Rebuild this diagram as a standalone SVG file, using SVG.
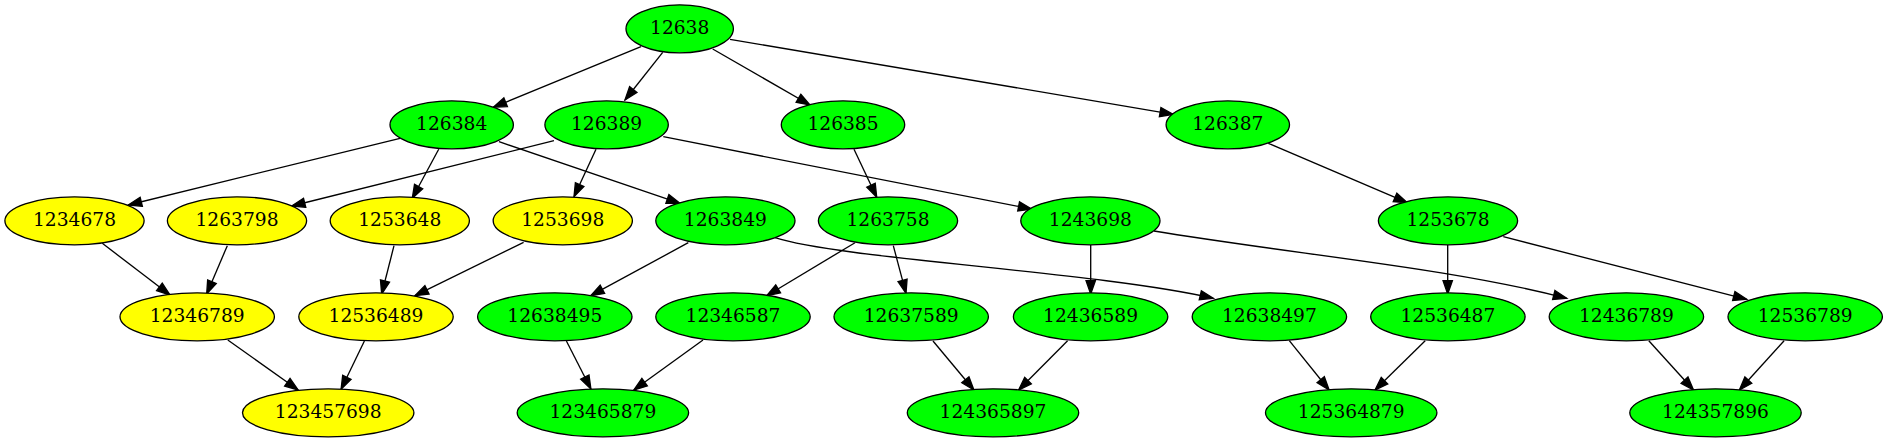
<svg xmlns="http://www.w3.org/2000/svg" width="1888" height="443" viewBox="0 0 1888 443">
<style>
.n ellipse{stroke:#000;stroke-width:1.33}
.g ellipse{fill:#00ff00}
.y ellipse{fill:#ffff00}
.n text{font-family:"DejaVu Serif","Liberation Serif",serif;font-size:18.67px;text-anchor:middle;fill:#000}
.e path{fill:none;stroke:#000;stroke-width:1.33;marker-end:url(#ah)}
</style>
<defs>
<marker id="ah" markerUnits="userSpaceOnUse" markerWidth="16" markerHeight="12" refX="13.33" refY="4.67" orient="auto" overflow="visible">
<path d="M0,0 L13.33,4.67 L0,9.33 Z" fill="#000" stroke="#000" stroke-width="1.33"/>
</marker>
</defs>
<rect width="1888" height="443" fill="#fff"/>
<g id="edges" class="e">
<path d="M641,46.7 L493.3,107.3"/>
<path d="M662.7,52.3 L625,100"/>
<path d="M712.7,49 L810,105"/>
<path d="M730,39.3 L1173.3,114.3"/>
<path d="M400,138.3 L128.3,205"/>
<path d="M438.7,149.3 L412.3,198.3"/>
<path d="M499,141.7 L680,203.3"/>
<path d="M554,140.7 L291.7,206"/>
<path d="M596,149.3 L574,196.7"/>
<path d="M663.3,136.7 L1031.7,209"/>
<path d="M854,149.3 L876.7,197.3"/>
<path d="M1268.3,143.3 L1407.3,202.7"/>
<path d="M102.3,243.3 L170,295"/>
<path d="M227.3,245.7 L206.7,294"/>
<path d="M394,245.7 L381.7,294"/>
<path d="M523.6,242.3 L415,295.7"/>
<path d="M688.3,242.7 L590.7,295.7"/>
<path d="M775,237.7 C840,259 1100,272 1213.3,298.3"/>
<path d="M855,242.7 L766.7,295.7"/>
<path d="M893.3,245.7 L906,293.3"/>
<path d="M1090.7,245 L1090.7,294"/>
<path d="M1154,231 C1300,255 1450,268 1566.7,298.3"/>
<path d="M1447.7,245 L1447.7,294"/>
<path d="M1503.3,236.7 L1746.7,299.3"/>
<path d="M227.8,340 L298.2,390"/>
<path d="M364.4,341 L341.1,389.3"/>
<path d="M566.4,341 L590.9,389"/>
<path d="M703,340 L633.8,390"/>
<path d="M933,341 L973.9,390"/>
<path d="M1067.6,340.7 L1018.6,390"/>
<path d="M1289.3,340.7 L1329.1,390"/>
<path d="M1425.2,340.7 L1375,390"/>
<path d="M1648.8,340.7 L1693.5,390"/>
<path d="M1784.1,340.7 L1739.4,390"/>
</g>
<g id="n12638" class="n g"><ellipse cx="679.7" cy="28.8" rx="53.7" ry="24"/><text x="679.7" y="34">12638</text></g>
<g id="n126384" class="n g"><ellipse cx="451.7" cy="124.8" rx="61.7" ry="24"/><text x="451.7" y="130">126384</text></g>
<g id="n126389" class="n g"><ellipse cx="606.6" cy="124.8" rx="61.7" ry="24"/><text x="606.6" y="130">126389</text></g>
<g id="n126385" class="n g"><ellipse cx="843" cy="124.8" rx="61.7" ry="24"/><text x="843" y="130">126385</text></g>
<g id="n126387" class="n g"><ellipse cx="1227.8" cy="124.8" rx="61.7" ry="24"/><text x="1227.8" y="130">126387</text></g>
<g id="n1234678" class="n y"><ellipse cx="74.5" cy="220.8" rx="69.6" ry="24"/><text x="74.5" y="226">1234678</text></g>
<g id="n1263798" class="n y"><ellipse cx="237" cy="220.8" rx="69.6" ry="24"/><text x="237" y="226">1263798</text></g>
<g id="n1253648" class="n y"><ellipse cx="399.8" cy="220.8" rx="69.6" ry="24"/><text x="399.8" y="226">1253648</text></g>
<g id="n1253698" class="n y"><ellipse cx="562.8" cy="220.8" rx="69.6" ry="24"/><text x="562.8" y="226">1253698</text></g>
<g id="n1263849" class="n g"><ellipse cx="725.4" cy="220.8" rx="69.6" ry="24"/><text x="725.4" y="226">1263849</text></g>
<g id="n1263758" class="n g"><ellipse cx="888" cy="220.8" rx="69.6" ry="24"/><text x="888" y="226">1263758</text></g>
<g id="n1243698" class="n g"><ellipse cx="1090.4" cy="220.8" rx="69.6" ry="24"/><text x="1090.4" y="226">1243698</text></g>
<g id="n1253678" class="n g"><ellipse cx="1448" cy="220.8" rx="69.6" ry="24"/><text x="1448" y="226">1253678</text></g>
<g id="n12346789" class="n y"><ellipse cx="197.2" cy="316.8" rx="77.2" ry="24"/><text x="197.2" y="322">12346789</text></g>
<g id="n12536489" class="n y"><ellipse cx="376" cy="316.8" rx="77.2" ry="24"/><text x="376" y="322">12536489</text></g>
<g id="n12638495" class="n g"><ellipse cx="554.8" cy="316.8" rx="77.2" ry="24"/><text x="554.8" y="322">12638495</text></g>
<g id="n12346587" class="n g"><ellipse cx="733" cy="316.8" rx="77.2" ry="24"/><text x="733" y="322">12346587</text></g>
<g id="n12637589" class="n g"><ellipse cx="911.2" cy="316.8" rx="77.2" ry="24"/><text x="911.2" y="322">12637589</text></g>
<g id="n12436589" class="n g"><ellipse cx="1090.6" cy="316.8" rx="77.2" ry="24"/><text x="1090.6" y="322">12436589</text></g>
<g id="n12638497" class="n g"><ellipse cx="1269.4" cy="316.8" rx="77.2" ry="24"/><text x="1269.4" y="322">12638497</text></g>
<g id="n12536487" class="n g"><ellipse cx="1447.9" cy="316.8" rx="77.2" ry="24"/><text x="1447.9" y="322">12536487</text></g>
<g id="n12436789" class="n g"><ellipse cx="1626.4" cy="316.8" rx="77.2" ry="24"/><text x="1626.4" y="322">12436789</text></g>
<g id="n12536789" class="n g"><ellipse cx="1805.2" cy="316.8" rx="77.2" ry="24"/><text x="1805.2" y="322">12536789</text></g>
<g id="n123457698" class="n y"><ellipse cx="328.2" cy="412.8" rx="85.7" ry="24"/><text x="328.2" y="418">123457698</text></g>
<g id="n123465879" class="n g"><ellipse cx="602.9" cy="412.8" rx="85.7" ry="24"/><text x="602.9" y="418">123465879</text></g>
<g id="n124365897" class="n g"><ellipse cx="993" cy="412.8" rx="85.7" ry="24"/><text x="993" y="418">124365897</text></g>
<g id="n125364879" class="n g"><ellipse cx="1351.2" cy="412.8" rx="85.7" ry="24"/><text x="1351.2" y="418">125364879</text></g>
<g id="n124357896" class="n g"><ellipse cx="1715.5" cy="412.8" rx="85.7" ry="24"/><text x="1715.5" y="418">124357896</text></g>
</svg>
